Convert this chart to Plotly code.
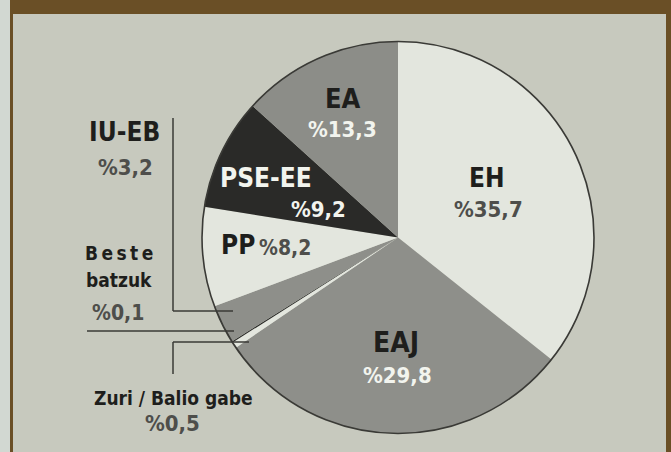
import plotly.graph_objects as go

# Data
parties = ["EH", "EAJ", "Zuri / Balio gabe", "Beste batzuk", "IU-EB", "PP", "PSE-EE", "EA"]
shares = [35.7, 29.8, 0.5, 0.1, 3.2, 8.2, 9.2, 13.3]
share_labels = ["%35,7", "%29,8", "%0,5", "%0,1", "%3,2", "%8,2", "%9,2", "%13,3"]
slice_colors = ["#e3e6de", "#8e8f8a", "#e3e6de", "#2a2a28", "#8e8f8a", "#e3e6de", "#2a2a28", "#8c8d88"]

W, H = 671, 452
BG = "#c7c9be"
BROWN = "#6a4f26"
FONT = "DejaVu Sans Condensed, Liberation Sans Narrow, Arial Narrow, sans-serif"

# pie geometry in pixels
cx, cy, r = 398, 237.5, 196


def px(x):
    return x / W


def py(y):
    return 1 - y / H


dom_x = [px(cx - r), px(cx + r)]
dom_y = [py(cy + r), py(cy - r)]

fig = go.Figure()
fig.add_trace(go.Pie(
    labels=parties,
    values=shares,
    sort=False,
    direction="clockwise",
    rotation=0,
    textinfo="none",
    hoverinfo="label+value",
    marker=dict(colors=slice_colors, line=dict(width=0)),
    domain=dict(x=dom_x, y=dom_y),
    showlegend=False,
))

shapes = []
# frame: left light strip, left/right brown rules, top brown band
shapes.append(dict(type="rect", xref="paper", yref="paper", x0=0, x1=px(10), y0=0, y1=1,
                   fillcolor="#d2d8d2", line=dict(width=0), layer="below"))
shapes.append(dict(type="rect", xref="paper", yref="paper", x0=px(10), x1=px(13), y0=0, y1=1,
                   fillcolor=BROWN, line=dict(width=0)))
shapes.append(dict(type="rect", xref="paper", yref="paper", x0=px(666), x1=1, y0=0, y1=1,
                   fillcolor=BROWN, line=dict(width=0)))
shapes.append(dict(type="rect", xref="paper", yref="paper", x0=px(10), x1=1, y0=py(14), y1=1,
                   fillcolor=BROWN, line=dict(width=0)))
# pie outline
shapes.append(dict(type="circle", xref="paper", yref="paper",
                   x0=dom_x[0], x1=dom_x[1], y0=dom_y[0], y1=dom_y[1],
                   line=dict(color="#3a3a36", width=1.6)))

LC = "#3a3a36"


def seg(x0, y0, x1, y1):
    shapes.append(dict(type="line", xref="paper", yref="paper",
                       x0=px(x0), y0=py(y0), x1=px(x1), y1=py(y1),
                       line=dict(color=LC, width=1.5)))


# leader lines
seg(173, 118, 173, 311)   # IU-EB vertical
seg(173, 311, 233, 311)   # IU-EB horizontal
seg(87, 331, 234, 331)    # Beste batzuk
seg(173, 342, 249, 342)   # Zuri horizontal
seg(173, 342, 173, 374)   # Zuri vertical

annotations = []


def txt(x, y, s, size, color, xanchor="center"):
    annotations.append(dict(x=px(x), y=py(y), xref="paper", yref="paper", text=s,
                            showarrow=False, xanchor=xanchor, yanchor="middle",
                            font=dict(family=FONT, size=size, color=color)))


DARK = "#1e1e1c"
MID = "#4e4e4b"
WHITE = "#f2f4ee"
TS = "\u2009"

txt(343, 98, "<b>EA</b>", 27, DARK)
txt(343, 129, "<b>" + share_labels[7] + "</b>", 22, WHITE)
txt(266, 178, "<b>PSE-EE</b>", 26, WHITE)
txt(318, 209, "<b>" + share_labels[6] + "</b>", 22, WHITE)
txt(487, 178, "<b>EH</b>", 26, DARK)
txt(488, 209, "<b>" + share_labels[0] + "</b>", 22, MID)
txt(238, 245, "<b>PP</b>", 26, DARK)
txt(285, 248, "<b>" + share_labels[5] + "</b>", 21, MID)
txt(396, 342, "<b>EAJ</b>", 28, DARK)
txt(397, 375, "<b>" + share_labels[1] + "</b>", 22, WHITE)
txt(124, 132, "<b>IU-EB</b>", 26, DARK)
txt(125, 167, "<b>" + share_labels[4] + "</b>", 22, MID)
txt(119, 253, "<b>" + TS.join("Beste") + "</b>", 19, DARK)
txt(119, 280, "<b>batzuk</b>", 19, DARK)
txt(118, 313, "<b>" + share_labels[3] + "</b>", 21, MID)
txt(173, 398, "<b>Zuri / Balio gabe</b>", 19, DARK)
txt(172, 423, "<b>" + share_labels[2] + "</b>", 22, MID)

fig.update_layout(
    width=W, height=H,
    margin=dict(l=0, r=0, t=0, b=0),
    paper_bgcolor=BG,
    plot_bgcolor=BG,
    shapes=shapes,
    annotations=annotations,
)

fig.write_html("out.html",
               config={"displayModeBar": False},
               post_script="document.body.style.margin='0';document.body.style.padding='0';")
